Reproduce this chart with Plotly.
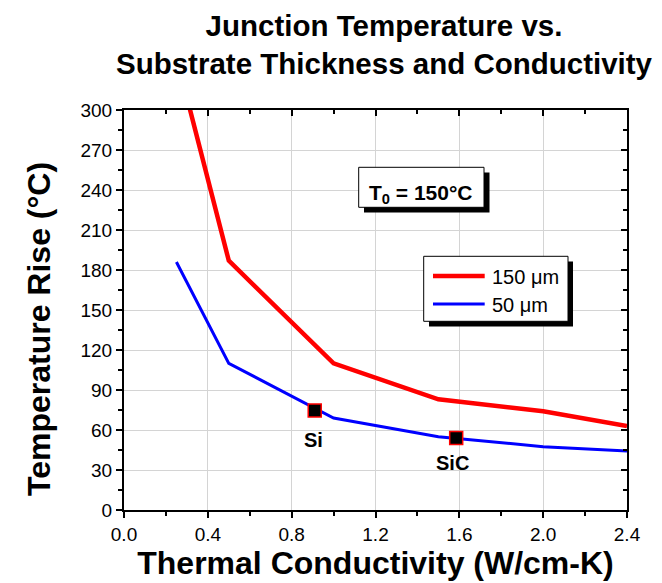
import plotly.graph_objects as go

# ---- data ----
k_150 = [0.25, 0.5, 1.0, 1.5, 2.0, 2.4]
t_150 = [340, 187, 110, 83, 74, 63]
k_50 = [0.25, 0.5, 1.0, 1.5, 2.0, 2.4]
t_50 = [186, 110, 69, 55, 47.5, 44.3]
materials = ["Si", "SiC"]
mat_k = [0.91, 1.585]
mat_t = [74.6, 54.0]
legend_names = ["150 \u03bcm", "50 \u03bcm"]
x_ticks = [0.0, 0.4, 0.8, 1.2, 1.6, 2.0, 2.4]
y_ticks = [0, 30, 60, 90, 120, 150, 180, 210, 240, 270, 300]

# ---- layout geometry (pixels) ----
W, H = 662, 583
L, R, T, B = 116, 43, 102, 81
PW, PH = W - L - R, H - T - B


def px(x):
    return (x - L) / PW


def py(y):
    return (H - B - y) / PH


FONT = "Liberation Sans, Arial, sans-serif"

fig = go.Figure()
fig.add_trace(go.Scatter(x=k_150, y=t_150, mode="lines", name=legend_names[0],
                         line=dict(color="#ff0000", width=4.5), showlegend=False))
fig.add_trace(go.Scatter(x=k_50, y=t_50, mode="lines", name=legend_names[1],
                         line=dict(color="#0000ff", width=3), showlegend=False))
fig.add_trace(go.Scatter(x=mat_k, y=mat_t, mode="markers", name="materials",
                         marker=dict(symbol="square", size=13, color="black",
                                     line=dict(color="#ff0000", width=1.5)),
                         showlegend=False))
# helper trace so the top / right frame axes are drawn
fig.add_trace(go.Scatter(x=[None], y=[None], xaxis="x2", yaxis="y2",
                         showlegend=False, hoverinfo="skip"))

tickfont = dict(family=FONT, size=19, color="black")
fig.update_layout(
    width=W, height=H,
    margin=dict(l=L, r=R, t=T, b=B),
    paper_bgcolor="white", plot_bgcolor="white",
    xaxis=dict(range=[0, 2.4], tickvals=x_ticks, ticktext=[f"{v:.1f}" for v in x_ticks],
               showgrid=True, gridcolor="#d4d4d4", gridwidth=1,
               showline=True, linecolor="black", linewidth=2,
               ticks="outside", ticklen=6, tickwidth=1.5, tickcolor="black",
               minor=dict(dtick=0.2, ticks="outside", ticklen=4, tickcolor="black", showgrid=False),
               tickfont=tickfont, zeroline=False,
               title=dict(text="<b>Thermal Conductivity (W/cm-K)</b>", standoff=8,
                          font=dict(family=FONT, size=32, color="black"))),
    yaxis=dict(range=[0, 300], tickvals=y_ticks,
               showgrid=True, gridcolor="#d4d4d4", gridwidth=1,
               showline=True, linecolor="black", linewidth=2,
               ticks="outside", ticklen=6, tickwidth=1.5, tickcolor="black",
               minor=dict(dtick=15, ticks="outside", ticklen=4, tickcolor="black", showgrid=False),
               tickfont=tickfont, zeroline=False),
    xaxis2=dict(range=[0, 2.4], overlaying="x", side="top", tickvals=x_ticks,
                showticklabels=False, showgrid=False, zeroline=False,
                showline=True, linecolor="black", linewidth=2,
                ticks="inside", ticklen=6, tickwidth=1.5, tickcolor="black",
                minor=dict(dtick=0.2, ticks="inside", ticklen=4, tickcolor="black")),
    yaxis2=dict(range=[0, 300], overlaying="y", side="right", tickvals=y_ticks,
                showticklabels=False, showgrid=False, zeroline=False,
                showline=True, linecolor="black", linewidth=2,
                ticks="inside", ticklen=6, tickwidth=1.5, tickcolor="black",
                minor=dict(dtick=15, ticks="inside", ticklen=4, tickcolor="black")),
)

# chart title
fig.add_annotation(xref="paper", yref="paper", x=px(376), y=py(0), xanchor="center",
                   yanchor="top", showarrow=False, borderpad=0,
                   text="<b>Junction Temperature vs.<br>Substrate Thickness and Conductivity</b>",
                   font=dict(family=FONT, size=29.5, color="black"))
# y-axis title
fig.add_annotation(xref="paper", yref="paper", x=px(31), y=py(321), textangle=-90,
                   xanchor="center", yanchor="middle",
                   showarrow=False, text="<b>Temperature Rise (\u00b0C)</b>",
                   font=dict(family=FONT, size=32, color="black"))

# material labels under the markers
label_shift = [(-1, -29), (-4, -25)]
for name, k, t, (dx, dy) in zip(materials, mat_k, mat_t, label_shift):
    fig.add_annotation(x=k, y=t, text=f"<b>{name}</b>", showarrow=False,
                       xshift=dx, yshift=dy,
                       font=dict(family=FONT, size=20, color="black"))

shapes = []
# T0 box with shadow
shapes.append(dict(type="rect", xref="paper", yref="paper", layer="above",
                   x0=px(356), x1=px(481.5), y0=py(204.5), y1=py(164.5),
                   fillcolor="black", line=dict(width=0)))
shapes.append(dict(type="rect", xref="paper", yref="paper", layer="above",
                   x0=px(350.7), x1=px(476), y0=py(199.3), y1=py(159.3),
                   fillcolor="white", line=dict(color="black", width=1)))
fig.add_annotation(xref="paper", yref="paper", x=px(413.4), y=py(179.5), yshift=9,
                   text="<b>T<sub>0</sub> = 150\u00b0C</b>", showarrow=False,
                   font=dict(family=FONT, size=21, color="black"))

# legend box with shadow
shapes.append(dict(type="rect", xref="paper", yref="paper", layer="above",
                   x0=px(421), x1=px(565), y0=py(318.5), y1=py(253.5),
                   fillcolor="black", line=dict(width=0)))
shapes.append(dict(type="rect", xref="paper", yref="paper", layer="above",
                   x0=px(415.7), x1=px(560), y0=py(313.3), y1=py(248.3),
                   fillcolor="white", line=dict(color="black", width=1)))
leg_colors = ["#ff0000", "#0000ff"]
leg_widths = [4.5, 3]
leg_y = [268, 296]
for name, c, w, yy in zip(legend_names, leg_colors, leg_widths, leg_y):
    shapes.append(dict(type="line", xref="paper", yref="paper", layer="above",
                       x0=px(425), x1=px(476.7), y0=py(yy), y1=py(yy),
                       line=dict(color=c, width=w)))
    fig.add_annotation(xref="paper", yref="paper", x=px(482), y=py(yy + 1),
                       xanchor="left", text=name, showarrow=False,
                       font=dict(family=FONT, size=20, color="black"))
fig.update_layout(shapes=shapes)

fig.write_html("out.html")
